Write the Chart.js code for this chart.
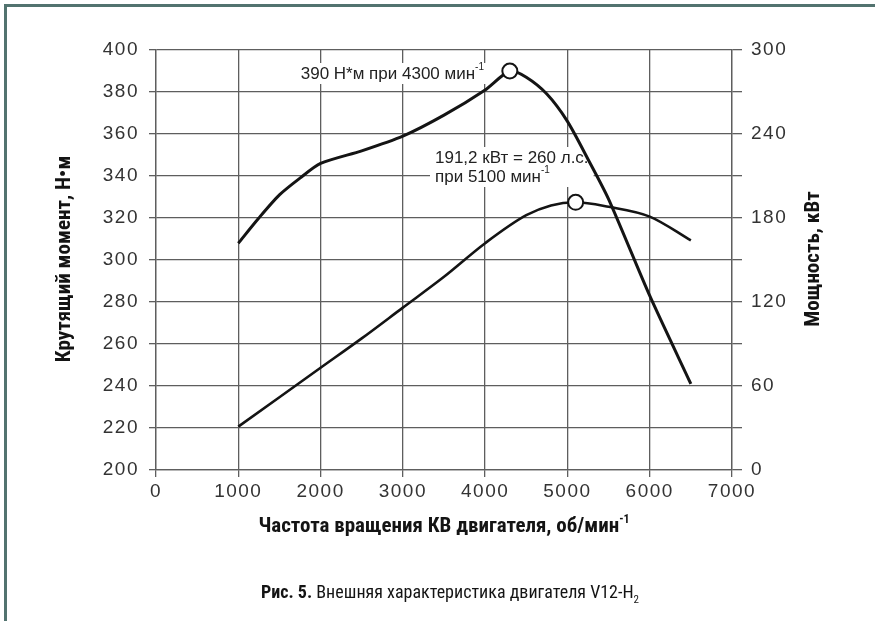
<!DOCTYPE html>
<html>
<head>
<meta charset="utf-8">
<script src="https://cdn.jsdelivr.net/npm/chart.js@4/dist/chart.umd.min.js"></script>
<style>
  html, body { margin: 0; padding: 0; background: #fff; }
  canvas { display: block; }
</style>
</head>
<body>
<canvas id="c" width="875" height="621"></canvas>
<script>
// Engine speed, rpm — torque curve
const torqueRpm = [1000, 1250, 1500, 1750, 2000, 2500, 3000, 3500, 4000, 4300, 4500, 4750, 5000, 5250, 5500, 6000, 6500];
// Crankshaft torque, N·m
const torqueNm  = [308, 320, 331, 339, 346, 352, 359, 369, 381, 390, 387, 379, 366, 348, 329, 283, 241];

// Engine speed, rpm — power curve
const powerRpm = [1000, 1500, 2000, 2500, 3000, 3500, 4000, 4500, 4800, 5100, 5500, 6000, 6500];
// Effective power, kW
const powerKw  = [31, 52, 73, 94, 116, 138, 162, 182, 189, 191.2, 188, 181, 164];

// Marked peak points
const torquePeak = { rpm: 4300, value: 390 };
const powerPeak  = { rpm: 5100, value: 191.2 };

// Axis ticks
const rpmTicks    = [0, 1000, 2000, 3000, 4000, 5000, 6000, 7000];
const torqueTicks = [200, 220, 240, 260, 280, 300, 320, 340, 360, 380, 400];
const powerTicks  = [0, 60, 120, 180, 240, 300];

const W = 875, H = 621;
const PLOT = { left: 156, right: 732, top: 50, bottom: 470 };

const NARROW = '"Liberation Sans Narrow", "Roboto Condensed", "DejaVu Sans Condensed", "Liberation Sans", sans-serif';
const PLAIN  = '"Liberation Sans", Arial, Helvetica, sans-serif';
const INK = '#141414';
const GRID = '#5e5e5e';
const LABEL = '#333333';

function pts(xs, ys) { return xs.map((x, i) => ({ x, y: ys[i] })); }
function peakRadius(xs, peak) { return xs.map(x => x === peak.rpm ? 7.5 : 0); }

// Measure and draw a sequence of text runs (with optional vertical shift)
function runsWidth(ctx, runs) {
  let w = 0;
  for (const r of runs) { ctx.font = r.font; w += ctx.measureText(r.text).width; }
  return w;
}
function drawRuns(ctx, runs, x, y, align) {
  const w = runsWidth(ctx, runs);
  let cx = align === 'center' ? x - w / 2 : align === 'right' ? x - w : x;
  ctx.textBaseline = 'middle';
  ctx.textAlign = 'left';
  for (const r of runs) {
    ctx.font = r.font;
    ctx.fillText(r.text, cx, y + (r.dy || 0));
    cx += ctx.measureText(r.text).width;
  }
  return w;
}

const decor = {
  id: 'decor',
  beforeDraw(chart) {
    const ctx = chart.ctx;
    ctx.save();
    ctx.fillStyle = '#fff';
    ctx.fillRect(0, 0, W, H);
    // page frame
    ctx.fillStyle = '#52736f';
    ctx.fillRect(4, 4, W - 4, 3);
    ctx.fillRect(4, 4, 3, H - 4);
    ctx.restore();
    // wide spacing for the tick numerals
    ctx.letterSpacing = '1.5px';
  },
  beforeDatasetsDraw(chart) {
    const ctx = chart.ctx;
    ctx.save();
    ctx.letterSpacing = '0px';
    const small = '10px ' + PLAIN;
    const note = '17px ' + PLAIN;
    // torque peak note
    const r1 = [{ text: '390 Н*м при 4300 мин', font: note }, { text: '-1', font: small, dy: -7 }];
    const w1 = runsWidth(ctx, r1);
    ctx.fillStyle = '#fff';
    ctx.fillRect(484 - w1 - 4, 63, w1 + 8, 21);
    ctx.fillStyle = '#222';
    drawRuns(ctx, r1, 484, 74, 'right');
    // power peak note
    const r2 = [{ text: '191,2 кВт = 260 л.с.', font: note }];
    const r3 = [{ text: 'при 5100 мин', font: note }, { text: '-1', font: small, dy: -7 }];
    const w2 = Math.max(runsWidth(ctx, r2), runsWidth(ctx, r3));
    ctx.fillStyle = '#fff';
    ctx.fillRect(430, 147, w2 + 10, 40);
    ctx.fillStyle = '#222';
    drawRuns(ctx, r2, 435, 158, 'left');
    drawRuns(ctx, r3, 435, 177, 'left');
    ctx.restore();
  },
  afterDraw(chart) {
    const ctx = chart.ctx;
    ctx.save();
    ctx.letterSpacing = '0px';
    ctx.fillStyle = INK;
    const bold = 'bold 21px ' + NARROW;
    // left axis title
    ctx.save();
    ctx.translate(65, 259);
    ctx.rotate(-Math.PI / 2);
    drawRuns(ctx, [{ text: 'Крутящий момент, Н•м', font: bold }], 0, 0, 'center');
    ctx.restore();
    // right axis title
    ctx.save();
    ctx.translate(814, 259);
    ctx.rotate(-Math.PI / 2);
    drawRuns(ctx, [{ text: 'Мощность, кВт', font: bold }], 0, 0, 'center');
    ctx.restore();
    // x axis title
    drawRuns(ctx, [
      { text: 'Частота вращения КВ двигателя, об/мин', font: bold },
      { text: '-1', font: 'bold 12px ' + NARROW, dy: -7 }
    ], 444, 527, 'center');
    // caption
    drawRuns(ctx, [
      { text: 'Рис. 5.', font: 'bold 18px ' + NARROW },
      { text: ' Внешняя характеристика двигателя V12-H', font: '18px ' + NARROW },
      { text: '2', font: '11px ' + NARROW, dy: 7 }
    ], 450, 593, 'center');
    ctx.restore();
  }
};

const tickFont = { family: PLAIN, size: 19 };

new Chart(document.getElementById('c'), {
  type: 'line',
  data: {
    datasets: [
      {
        label: 'Крутящий момент',
        data: pts(torqueRpm, torqueNm),
        yAxisID: 'y',
        borderColor: INK,
        borderWidth: 3,
        tension: 0.25,
        pointRadius: peakRadius(torqueRpm, torquePeak),
        pointBackgroundColor: '#fff',
        pointBorderColor: INK,
        pointBorderWidth: 2
      },
      {
        label: 'Мощность',
        data: pts(powerRpm, powerKw),
        yAxisID: 'y1',
        borderColor: INK,
        borderWidth: 2.6,
        cubicInterpolationMode: 'monotone',
        pointRadius: peakRadius(powerRpm, powerPeak),
        pointBackgroundColor: '#fff',
        pointBorderColor: INK,
        pointBorderWidth: 2
      }
    ]
  },
  options: {
    responsive: false,
    animation: false,
    events: [],
    layout: { padding: { top: PLOT.top, left: 0, right: 0, bottom: 0 } },
    plugins: { legend: { display: false }, tooltip: { enabled: false }, title: { display: false } },
    scales: {
      x: {
        type: 'linear',
        min: rpmTicks[0],
        max: rpmTicks[rpmTicks.length - 1],
        afterBuildTicks: s => { s.ticks = rpmTicks.map(v => ({ value: v })); },
        ticks: { font: tickFont, color: LABEL, padding: 3, maxRotation: 0, autoSkip: false, callback: v => String(v) },
        grid: { color: GRID, lineWidth: 1.3, tickLength: 7, tickColor: GRID },
        border: { color: GRID, width: 1.3 },
        afterFit: s => { s.height = H - PLOT.bottom; }
      },
      y: {
        position: 'left',
        min: torqueTicks[0],
        max: torqueTicks[torqueTicks.length - 1],
        afterBuildTicks: s => { s.ticks = torqueTicks.map(v => ({ value: v })); },
        ticks: { font: tickFont, color: LABEL, padding: 10, autoSkip: false, callback: v => String(v) },
        grid: { color: GRID, lineWidth: 1.3, tickLength: 7, tickColor: GRID },
        border: { color: GRID, width: 1.3 },
        afterFit: s => { s.width = PLOT.left; }
      },
      y1: {
        position: 'right',
        min: powerTicks[0],
        max: powerTicks[powerTicks.length - 1],
        afterBuildTicks: s => {
          const t = [];
          for (let i = 0; i < powerTicks.length - 1; i++) {
            t.push({ value: powerTicks[i] });
            t.push({ value: (powerTicks[i] + powerTicks[i + 1]) / 2 });
          }
          t.push({ value: powerTicks[powerTicks.length - 1] });
          s.ticks = t;
        },
        ticks: {
          font: tickFont, color: LABEL, padding: 9, autoSkip: false,
          callback: v => powerTicks.includes(v) ? String(v) : ''
        },
        grid: { drawOnChartArea: false, color: GRID, lineWidth: 1.3, tickLength: 10, tickColor: GRID },
        border: { color: GRID, width: 1.3 },
        afterFit: s => { s.width = W - PLOT.right; }
      }
    }
  },
  plugins: [decor]
});
</script>
</body>
</html>
